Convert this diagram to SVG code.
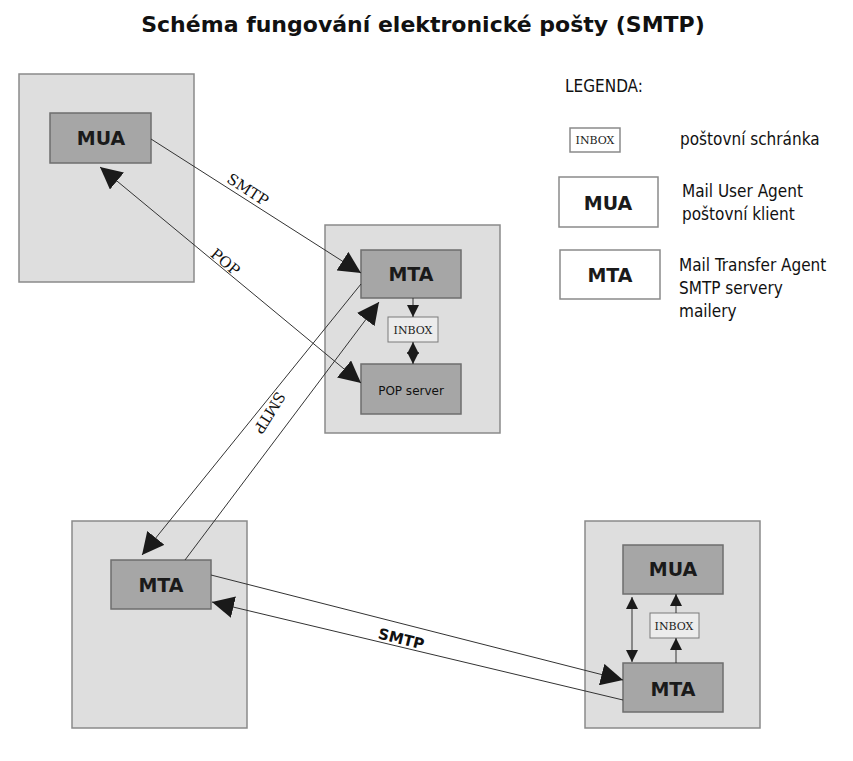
<svg xmlns="http://www.w3.org/2000/svg" width="853" height="761" viewBox="0 0 853 761">
<style>
.host{fill:#dedede;stroke:#8a8a8a;stroke-width:1.5}
.node{fill:#a6a6a6;stroke:#6e6e6e;stroke-width:1.5}
.ib{fill:#ececec;stroke:#7a7a7a;stroke-width:1}
.lg{fill:#fff;stroke:#8a8a8a;stroke-width:1.5}
.nl{font-family:"DejaVu Sans",sans-serif;font-weight:bold;font-size:19px;fill:#1a1a1a;text-anchor:middle}
.il{font-family:"DejaVu Serif",serif;font-size:11px;fill:#222;text-anchor:middle}
.t{font-family:"DejaVu Sans Condensed","DejaVu Sans",sans-serif;font-size:17px;fill:#111}
.c{stroke:#333;stroke-width:1;fill:none}
.big{marker-end:url(#ah)}
.sm{marker-end:url(#as)}
</style>
<defs>
<marker id="ah" viewBox="0 0 10 10" refX="10" refY="5" markerWidth="22" markerHeight="22" markerUnits="userSpaceOnUse" orient="auto-start-reverse"><path d="M0,0 L10,5 L0,10 z" fill="#1a1a1a"/></marker>
<marker id="as" viewBox="0 0 10 10" refX="10" refY="5" markerWidth="12" markerHeight="12" markerUnits="userSpaceOnUse" orient="auto-start-reverse"><path d="M0,0 L10,5 L0,10 z" fill="#1a1a1a"/></marker>
</defs>
<text x="423" y="32" font-family="DejaVu Sans,sans-serif" font-weight="bold" font-size="22" text-anchor="middle" fill="#111">Schéma fungování elektronické pošty (SMTP)</text>

<g id="host1"><rect class="host" x="19" y="74" width="175" height="208"/></g>
<g id="host2"><rect class="host" x="325" y="225" width="175" height="208"/></g>
<g id="host3"><rect class="host" x="72" y="521" width="175" height="207"/></g>
<g id="host4"><rect class="host" x="585" y="521" width="175" height="207"/></g>

<g id="mua1"><rect class="node" x="50" y="113" width="101" height="50"/><text class="nl" x="101" y="145">MUA</text></g>
<g id="mta2"><rect class="node" x="361" y="250" width="100" height="48"/><text class="nl" x="411" y="281">MTA</text></g>
<g id="inbox2"><rect class="ib" x="388" y="317" width="50" height="25"/><text class="il" x="413" y="334">INBOX</text></g>
<g id="pop2"><rect class="node" x="361" y="364" width="100" height="50"/><text x="411" y="395" font-family="DejaVu Sans,sans-serif" font-size="12" fill="#111" text-anchor="middle">POP server</text></g>
<g id="mta3"><rect class="node" x="111" y="560" width="100" height="49"/><text class="nl" x="161" y="592">MTA</text></g>
<g id="mua4"><rect class="node" x="623" y="545" width="100" height="49"/><text class="nl" x="673" y="576">MUA</text></g>
<g id="inbox4"><rect class="ib" x="650" y="613" width="49" height="25"/><text class="il" x="674" y="630">INBOX</text></g>
<g id="mta4"><rect class="node" x="623" y="663" width="100" height="49"/><text class="nl" x="673" y="696">MTA</text></g>

<g id="connectors">
<line class="c big" x1="151" y1="139" x2="361" y2="273"/>
<line class="c big" style="marker-start:url(#ah)" x1="100" y1="167" x2="361" y2="383"/>
<line class="c big" x1="361" y1="284" x2="142" y2="555"/>
<line class="c big" x1="185" y1="560" x2="379" y2="302"/>
<line class="c big" x1="211" y1="575" x2="623" y2="680"/>
<line class="c big" x1="623" y1="700" x2="212" y2="602"/>
<line class="c sm" x1="413" y1="298" x2="413" y2="317"/>
<line class="c sm" style="marker-start:url(#as)" x1="413" y1="342" x2="413" y2="364"/>
<line class="c sm" x1="676" y1="663" x2="676" y2="638"/>
<line class="c sm" x1="676" y1="613" x2="676" y2="594"/>
<line class="c sm" style="marker-start:url(#as)" x1="632" y1="597" x2="632" y2="662"/>
<text x="245" y="194" transform="rotate(33 245 194)" font-family="DejaVu Serif,serif" font-size="15" text-anchor="middle" fill="#111">SMTP</text>
<text x="222" y="266" transform="rotate(40 222 266)" font-family="DejaVu Serif,serif" font-size="15" text-anchor="middle" fill="#111">POP</text>
<text x="265" y="410" transform="rotate(122 265 410)" font-family="DejaVu Serif,serif" font-size="15" text-anchor="middle" fill="#111">SMTP</text>
<text x="400" y="644" transform="rotate(14 400 644)" font-family="DejaVu Sans,sans-serif" font-weight="bold" font-size="15" text-anchor="middle" fill="#111">SMTP</text>
</g>

<g id="legend">
<text class="t" x="565" y="92">LEGENDA:</text>
<rect class="lg" x="570" y="128" width="50" height="24"/><text class="il" x="595" y="144">INBOX</text>
<text class="t" x="680" y="145">poštovní schránka</text>
<rect class="lg" x="559" y="177" width="99" height="50"/><text class="nl" x="608" y="210">MUA</text>
<text class="t" x="682" y="197">Mail User Agent</text>
<text class="t" x="682" y="220">poštovní klient</text>
<rect class="lg" x="560" y="250" width="100" height="49"/><text class="nl" x="610" y="282">MTA</text>
<text class="t" x="679" y="271">Mail Transfer Agent</text>
<text class="t" x="679" y="294">SMTP servery</text>
<text class="t" x="679" y="317">mailery</text>
</g>
</svg>
